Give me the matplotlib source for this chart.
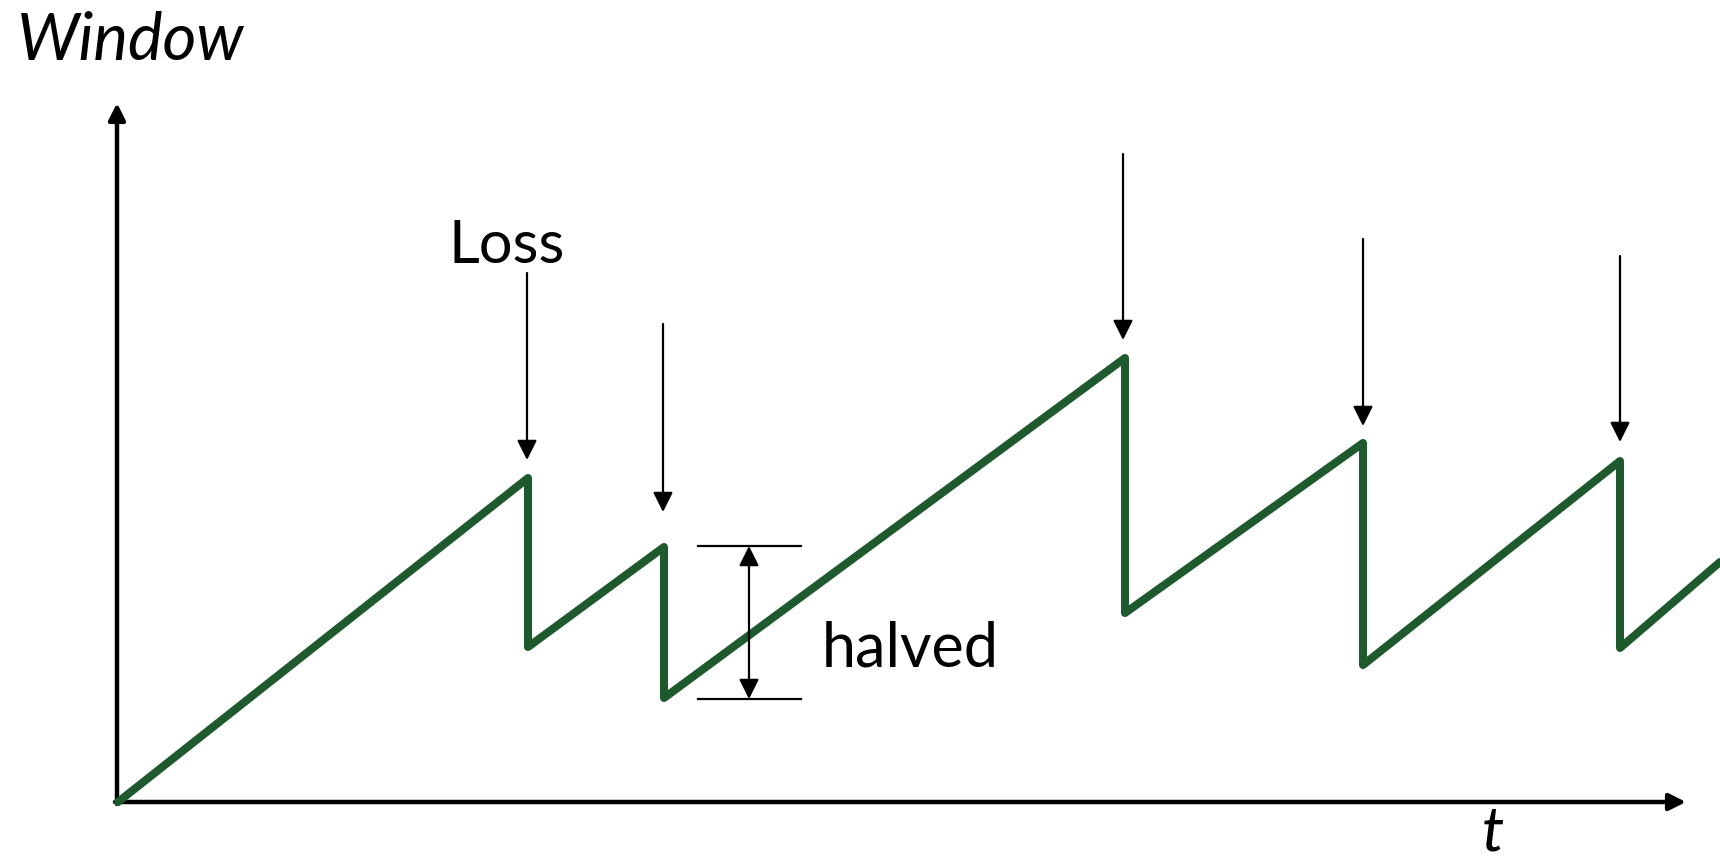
import matplotlib.pyplot as plt

# congestion window sawtooth (t, window) in arbitrary units
t = [0, 41.0, 41.0, 54.6, 54.6, 100.7, 100.7, 124.5, 124.5, 150.2, 150.2, 160.2]
window = [0, 32.4, 15.5, 25.5, 10.4, 44.4, 18.9, 35.9, 13.7, 34.1, 15.4, 24.0]

# loss arrows: x position, tail height, tip height
loss_t = [40.9, 54.5, 100.5, 124.5, 150.2]
loss_tail = [52.9, 47.8, 64.8, 56.3, 54.6]
loss_tip = [34.2, 29.0, 46.2, 37.6, 36.0]

# "halved" marker
halved_t = 63.1
halved_top = 25.6
halved_bottom = 10.3
halved_span = [58.0, 68.3]

green = '#1e5a2e'
font = 'Lato'

fig = plt.figure(figsize=(17.2, 8.63), dpi=100)
ax = fig.add_axes([0, 0, 1, 1])
ax.set_xlim(-11.8, 160.2)
ax.set_ylim(-6.1, 80.2)
ax.axis('off')

# axes with arrow heads
ax.annotate('', xy=(-0.1, 69.9), xytext=(-0.1, -0.2),
            arrowprops=dict(arrowstyle='-|>,head_length=1.0,head_width=0.5',
                            lw=3.2, color='black', shrinkA=0, shrinkB=0,
                            mutation_scale=10))
ax.annotate('', xy=(156.8, 0), xytext=(-0.3, 0),
            arrowprops=dict(arrowstyle='-|>,head_length=1.0,head_width=0.5',
                            lw=3.2, color='black', shrinkA=0, shrinkB=0,
                            mutation_scale=10))

# sawtooth
ax.plot(t, window, color=green, lw=5.8, solid_joinstyle='round',
        solid_capstyle='round', zorder=3)

# loss arrows
for x, a, b in zip(loss_t, loss_tail, loss_tip):
    ax.annotate('', xy=(x, b), xytext=(x, a),
                arrowprops=dict(arrowstyle='-|>,head_length=1.2,head_width=0.6',
                                lw=1.6, color='black', shrinkA=0, shrinkB=0,
                                mutation_scale=10))

# halved marker
ax.plot(halved_span, [halved_top, halved_top], color='black', lw=1.6)
ax.plot(halved_span, [halved_bottom, halved_bottom], color='black', lw=1.6)
ax.annotate('', xy=(halved_t, halved_top), xytext=(halved_t, halved_bottom),
            arrowprops=dict(arrowstyle='<|-|>,head_length=1.2,head_width=0.6',
                            lw=1.6, color='black', shrinkA=0, shrinkB=0,
                            mutation_scale=10))

# labels
ax.text(33.0, 53.9, 'Loss', fontsize=43, family=font, ha='left', va='baseline')
ax.text(70.4, 13.6, 'halved', fontsize=44, family=font, ha='left', va='baseline')
ax.text(-10.1, 74.2, 'Window', fontsize=47, family=font, style='italic',
        ha='left', va='baseline')
ax.text(136.4, -5.9, 't', fontsize=45, family=font, style='italic',
        ha='left', va='bottom')

fig.savefig('out.png', dpi=100)
